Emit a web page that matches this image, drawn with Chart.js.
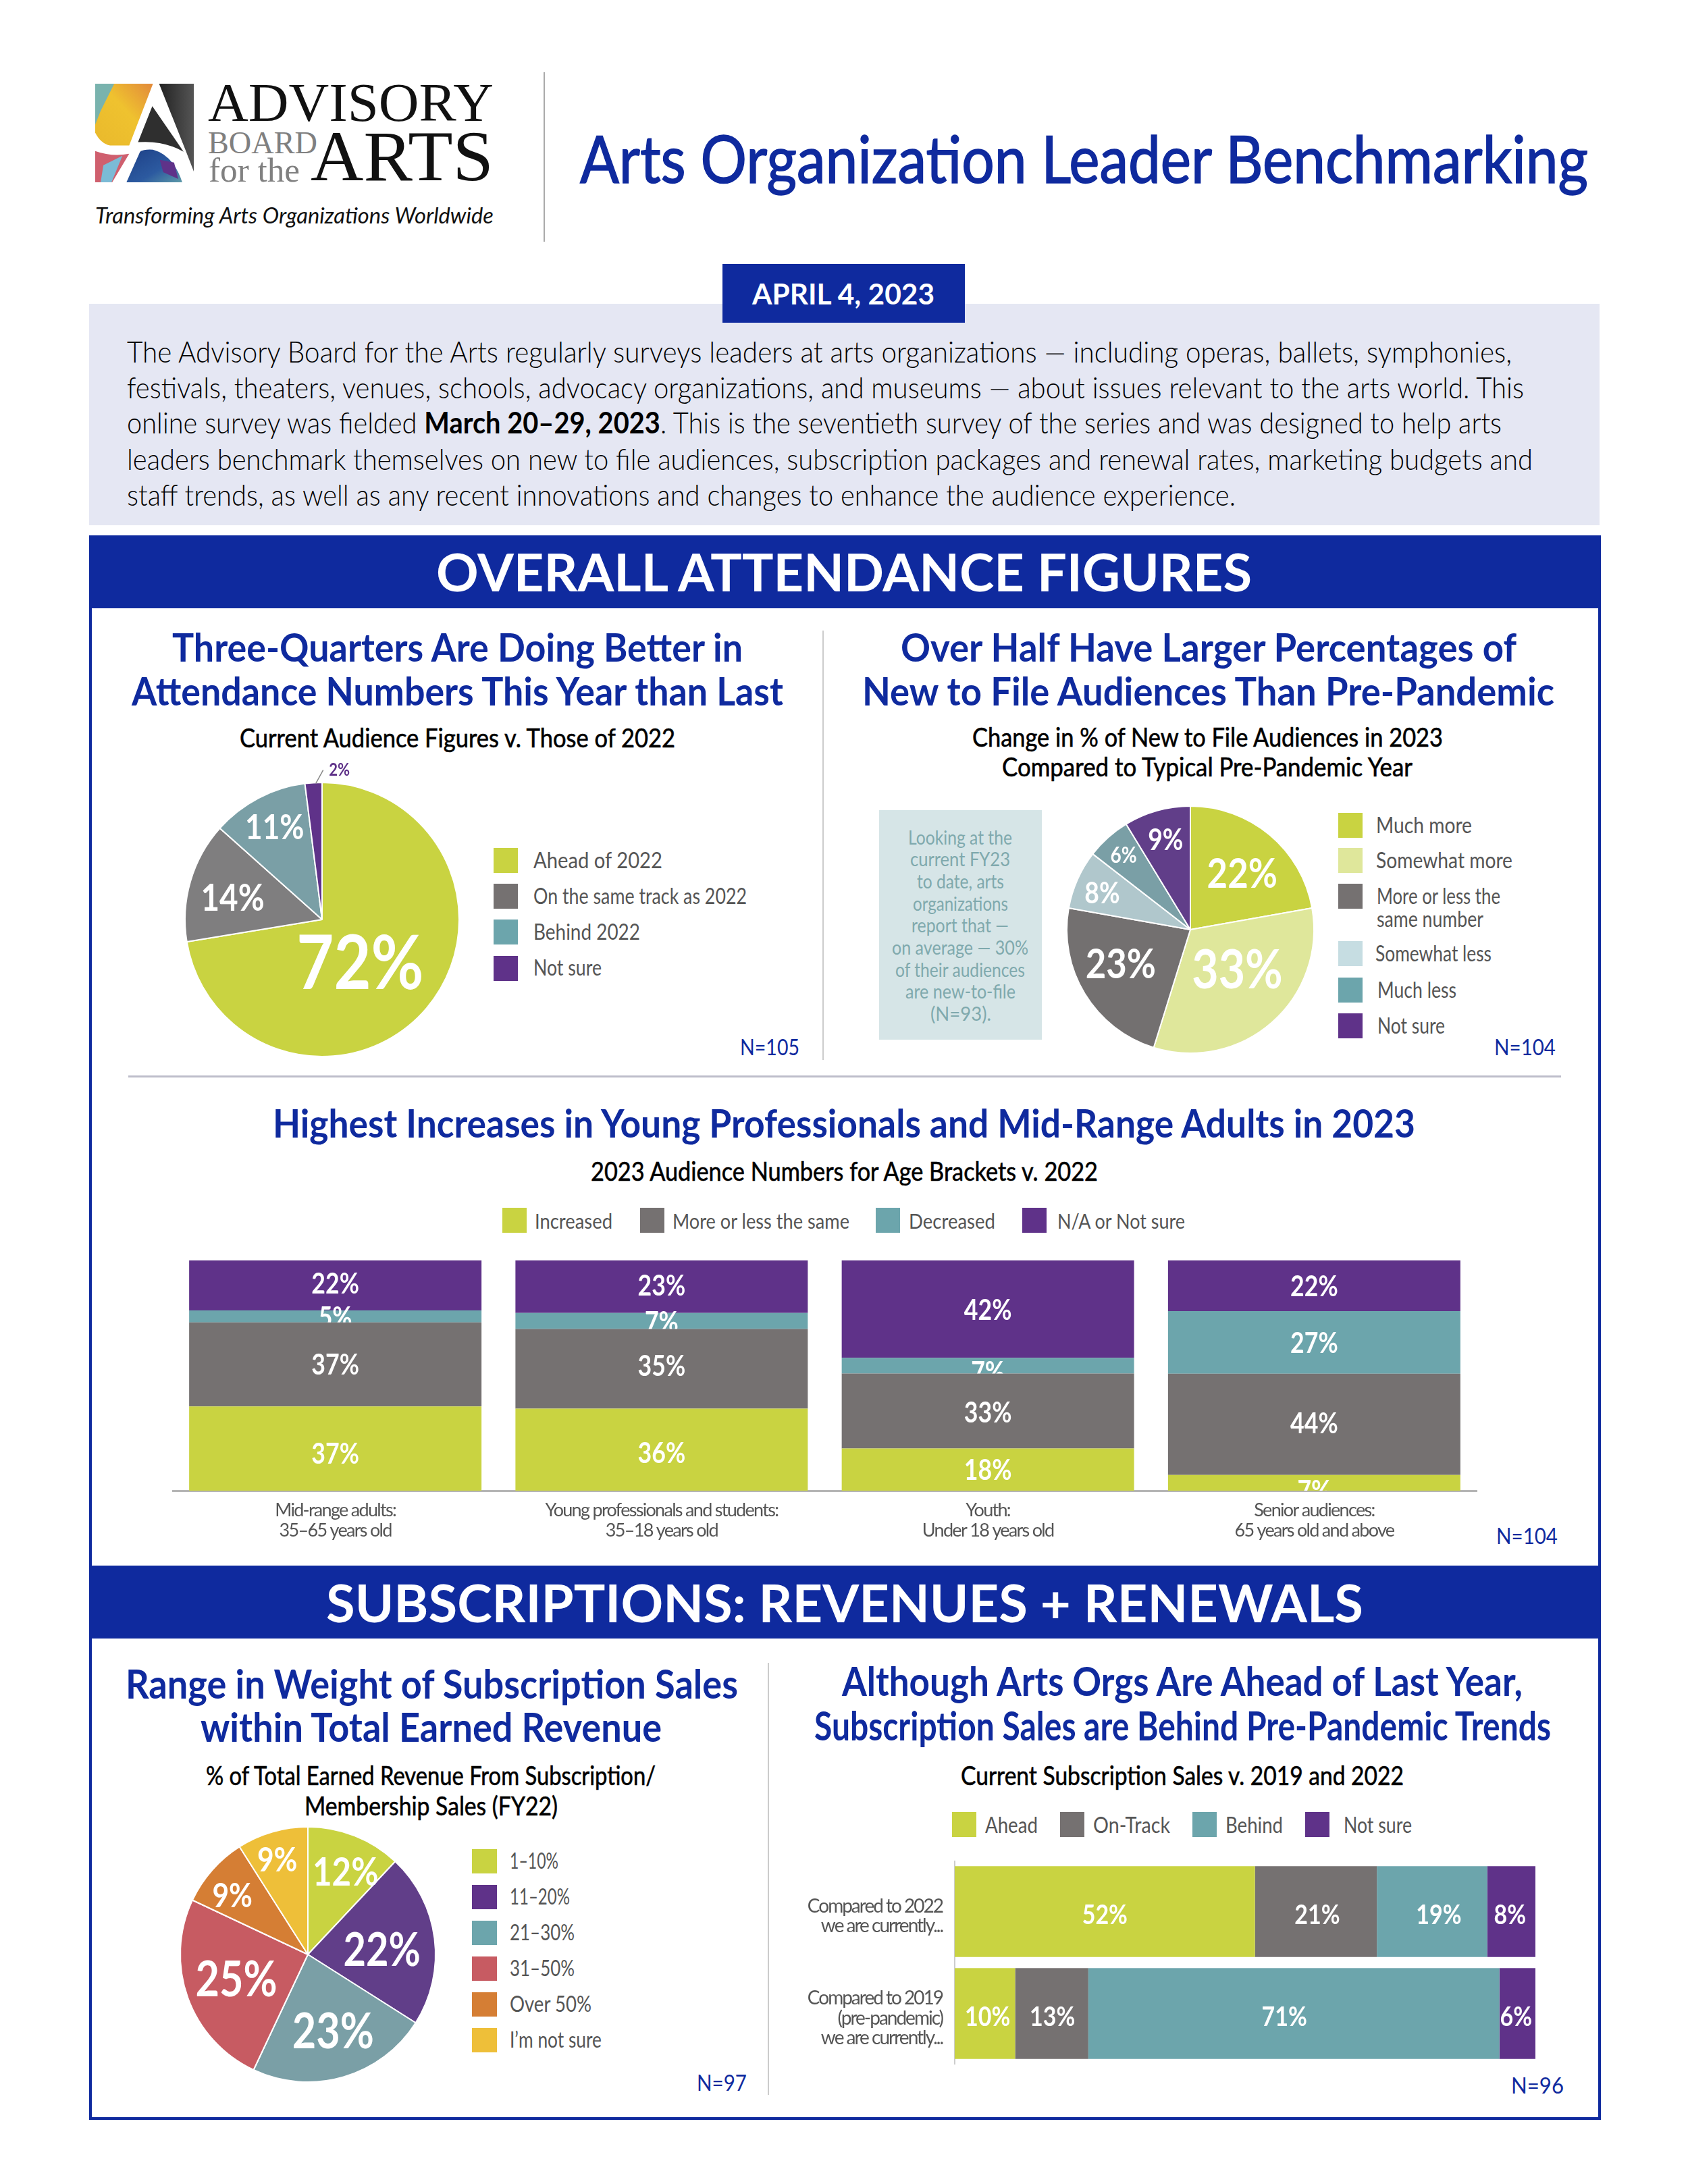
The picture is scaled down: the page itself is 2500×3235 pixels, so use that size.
<!DOCTYPE html>
<html>
<head>
<meta charset="utf-8">
<title>Arts Organization Leader Benchmarking</title>
<script src="https://cdn.jsdelivr.net/npm/chart.js@4"></script>
<style>
html, body { margin: 0; padding: 0; background: #fff; }
#page { position: relative; width: 2500px; height: 3235px; overflow: hidden; font-family: Lato, sans-serif; }
#page canvas { position: absolute; }
.t { position: absolute; white-space: pre; line-height: 1; transform-origin: 0 0; }
.b { position: absolute; }
</style>
</head>
<body>
<div id="page">
  <svg class="b" style="left:141px;top:124px" width="146" height="147" viewBox="0 0 145 146">
    <defs>
      <linearGradient id="warm" x1="0" y1="1" x2="1" y2="0"><stop offset="0" stop-color="#e9b92c"/><stop offset=".55" stop-color="#efc22f"/><stop offset="1" stop-color="#e2893b"/></linearGradient>
      <linearGradient id="cool" x1="0" y1="0" x2="1" y2="1"><stop offset="0" stop-color="#1d3f86"/><stop offset=".6" stop-color="#2c5aa0"/><stop offset="1" stop-color="#5d9aa8"/></linearGradient>
      <linearGradient id="dark" x1="0" y1="0" x2="1" y2="0"><stop offset="0" stop-color="#222"/><stop offset="1" stop-color="#555"/></linearGradient>
    </defs>
    <path d="M0 0H85L50 91H22Q8 88 0 72Z" fill="url(#warm)"/>
    <path d="M0 0H28L8 40L0 60Z" fill="#79b3ae"/>
    <path d="M0 99Q25 108 50 103L25 145H0Z" fill="#cf5f6e"/>
    <path d="M12 120L40 106L24 145H8Z" fill="#7bbbd6"/>
    <path d="M46 145L66 100Q72 96 85 97Q115 105 128 145Z" fill="url(#cool)"/>
    <path d="M95 112L116 116L122 140L100 130Z" fill="#5f3289"/>
    <path d="M94 0H145V129L133 98Z" fill="url(#dark)"/>
    <path d="M84 33L63 86Q100 83 130 100Z" fill="#2f2f2f"/>
  </svg>
</div>
<script>
// pie: current audience figures v. 2022
const attendanceLabels = ["Ahead of 2022", "On the same track as 2022", "Behind 2022", "Not sure"];
const attendanceValues = [72.4, 14.2, 11.4, 2.0];

// pie: new to file audiences
const newFileLabels = ["Much more", "Somewhat more", "More or less the same number", "Somewhat less", "Much less", "Not sure"];
const newFileValues = [22.2, 32.6, 23, 7.7, 5.8, 8.7];

// stacked bars: age brackets
const ageCategories = [
  ["Mid-range adults:", "35–65 years old"],
  ["Young professionals and students:", "35–18 years old"],
  ["Youth:", "Under 18 years old"],
  ["Senior audiences:", "65 years old and above"],
];
const ageSeries = ["Increased", "More or less the same", "Decreased", "N/A or Not sure"];
const ageIncreased = [36.6, 35.6, 18.3, 6.8];
const ageSame = [36.5, 34.6, 32.6, 44];
const ageDecreased = [5.2, 7, 6.8, 27.2];
const ageNotSure = [21.7, 22.8, 42.3, 22];

// pie: weight of subscription sales
const weightLabels = ["1–10%", "11–20%", "21–30%", "31–50%", "Over 50%", "I’m not sure"];
const weightValues = [12, 22, 23, 25, 9, 9];

// horizontal bars: subscription sales v. 2019 and 2022
const salesCategories = [
  ["Compared to 2022", "we are currently..."],
  ["Compared to 2019", "(pre-pandemic)", "we are currently..."],
];
const salesSeries = ["Ahead", "On-Track", "Behind", "Not sure"];
const salesAhead = [51.7, 10.4];
const salesOnTrack = [21, 12.6];
const salesBehind = [19, 70.8];
const salesNotSure = [8.3, 6.2];

const GREEN = "#c9d341", PALE = "#dfe79b", GREY = "#757171", TEAL = "#6ca5ac", PURPLE = "#5f3289";
const PIE_GREY = "#7f7e7f", PIE_TEAL = "#7a9fa6", ICE = "#b0c7cc", ICE_KEY = "#c6dde2";
const RED = "#c75b62", ORANGE = "#d57e34", GOLD = "#eebf39";
const BLUE = "#0f2a9e", TEXT = "#555", SQUEEZE = 0.85;
const HEAVY = "-webkit-text-stroke:0.6px;";

const page = document.getElementById("page");

// single line of real text, stretched to the width it has in the picture
function txt(x, base, w, size, color, weight, str, extra) {
  const el = document.createElement("div");
  el.className = "t";
  el.innerHTML = str;
  el.style.cssText = `left:${x}px;top:${base - 0.85 * size}px;font-size:${size}px;color:${color};font-weight:${weight};${extra || ""}`;
  page.appendChild(el);
  const real = el.getBoundingClientRect().width;
  el.style.transform = `scaleX(${w / real})`;
}
function box(x, y, w, h, color) {
  const el = document.createElement("div");
  el.className = "b";
  el.style.cssText = `left:${x}px;top:${y}px;width:${w}px;height:${h}px;background:${color}`;
  page.appendChild(el);
}

// logo text
const SERIF = "font-family:'Liberation Serif',serif;";
txt(141, 330, 590, 33, "#111", 400, "Transforming Arts Organizations Worldwide", "font-style:italic;");
txt(308, 180, 423, 80, "#111", 400, "ADVISORY", SERIF);
txt(308, 228, 162, 46, "#808080", 400, "BOARD", SERIF);
txt(309, 269, 135, 50, "#808080", 400, "for the", SERIF);
txt(460, 269, 271, 106, "#111", 400, "ARTS", SERIF);
box(805, 107, 2, 251, "#aaa");
txt(859, 267, 1493, 97, BLUE, 400, "Arts Organization Leader Benchmarking", "-webkit-text-stroke:1.6px;");

// intro panel
box(132, 450, 2237, 328, "#e5e7f3");
box(1070, 391, 359, 87, BLUE);
txt(1114, 450, 270, 42, "#fff", 700, "APRIL 4, 2023");
const INTRO = "#000";
txt(188, 535, 2051, 44, INTRO, 300, "The Advisory Board for the Arts regularly surveys leaders at arts organizations — including operas, ballets, symphonies,");
txt(188, 588, 2069, 44, INTRO, 300, "festivals, theaters, venues, schools, advocacy organizations, and museums — about issues relevant to the arts world. This");
txt(188, 640, 2036, 44, INTRO, 300, "online survey was fielded <b style='color:#000;font-weight:700'>March 20–29, 2023</b>. This is the seventieth survey of the series and was designed to help arts");
txt(188, 694, 2082, 44, INTRO, 300, "leaders benchmark themselves on new to file audiences, subscription packages and renewal rates, marketing budgets and");
txt(188, 747, 1642, 44, INTRO, 300, "staff trends, as well as any recent innovations and changes to enhance the audience experience.");

// frame and section bands
const frame = document.createElement("div");
frame.className = "b";
frame.style.cssText = `left:132px;top:793px;width:2231px;height:2339px;border:4px solid ${BLUE}`;
page.appendChild(frame);
box(132, 793, 2239, 108, BLUE);
txt(646, 874, 1208, 76, "#fff", 700, "OVERALL ATTENDANCE FIGURES");
box(132, 2319, 2239, 108, BLUE);
txt(483, 2401, 1536, 76, "#fff", 700, "SUBSCRIPTIONS: REVENUES + RENEWALS");
box(1218, 934, 2, 636, "#ccc");
box(190, 1593, 2122, 3, "#bdbdca");
box(1137, 2463, 2, 640, "#ccc");

// headings
txt(255, 978, 845, 58, BLUE, 700, "Three-Quarters Are Doing Better in");
txt(195, 1043, 965, 58, BLUE, 700, "Attendance Numbers This Year than Last");
txt(355, 1105, 645, 38, "#000", 400, "Current Audience Figures v. Those of 2022", HEAVY);
txt(1334, 978, 912, 58, BLUE, 700, "Over Half Have Larger Percentages of");
txt(1277, 1043, 1025, 58, BLUE, 700, "New to File Audiences Than Pre-Pandemic");
txt(1440, 1104, 697, 38, "#000", 400, "Change in % of New to File Audiences in 2023", HEAVY);
txt(1484, 1148, 608, 38, "#000", 400, "Compared to Typical Pre-Pandemic Year", HEAVY);
txt(404, 1683, 1692, 58, BLUE, 700, "Highest Increases in Young Professionals and Mid-Range Adults in 2023");
txt(875, 1747, 751, 38, "#000", 400, "2023 Audience Numbers for Age Brackets v. 2022", HEAVY);
txt(186, 2514, 907, 60, BLUE, 700, "Range in Weight of Subscription Sales");
txt(297, 2578, 683, 60, BLUE, 700, "within Total Earned Revenue");
txt(305, 2642, 666, 38, "#000", 400, "% of Total Earned Revenue From Subscription/", HEAVY);
txt(451, 2687, 375, 38, "#000", 400, "Membership Sales (FY22)", HEAVY);
txt(1247, 2510, 1008, 60, BLUE, 700, "Although Arts Orgs Are Ahead of Last Year,");
txt(1206, 2576, 1091, 60, BLUE, 700, "Subscription Sales are Behind Pre-Pandemic Trends");
txt(1423, 2642, 656, 38, "#000", 400, "Current Subscription Sales v. 2019 and 2022", HEAVY);

// sample sizes
txt(1096, 1562, 88, 32, BLUE, 400, "N=105");
txt(2213, 1562, 91, 32, BLUE, 400, "N=104");
txt(2216, 2286, 91, 32, BLUE, 400, "N=104");
txt(1032, 3096, 74, 32, BLUE, 400, "N=97");
txt(2238, 3100, 78, 32, BLUE, 400, "N=96");

// note beside second pie
box(1302, 1200, 241, 340, "#d6e5e7");
const NOTE = "#7fa9ad";
txt(1345, 1250, 154, 28, NOTE, 400, "Looking at the");
txt(1348, 1282, 148, 28, NOTE, 400, "current FY23");
txt(1358, 1315, 129, 28, NOTE, 400, "to date, arts");
txt(1352, 1348, 141, 28, NOTE, 400, "organizations");
txt(1350, 1380, 144, 28, NOTE, 400, "report that —");
txt(1321, 1413, 202, 28, NOTE, 400, "on average — 30%");
txt(1326, 1446, 192, 28, NOTE, 400, "of their audiences");
txt(1341, 1478, 163, 28, NOTE, 400, "are new-to-file");
txt(1378, 1511, 90, 28, NOTE, 400, "(N=93).");

// keys
const attendanceKey = [GREEN, GREY, TEAL, PURPLE];
const attendanceKeyWidths = [191, 316, 158, 101];
attendanceLabels.forEach((t, i) => {
  box(731, 1256 + i * 53.2, 36, 37, attendanceKey[i]);
  txt(790, 1285 + i * 53, attendanceKeyWidths[i], 32, TEXT, 400, t);
});

const newFileKey = [GREEN, PALE, GREY, ICE_KEY, TEAL, PURPLE];
const newFileKeyTop = [1204, 1256, 1309, 1394, 1448, 1501];
newFileKey.forEach((c, i) => box(1982, newFileKeyTop[i], 36, 37, c));
txt(2038, 1233, 142, 32, TEXT, 400, newFileLabels[0]);
txt(2038, 1285, 202, 32, TEXT, 400, newFileLabels[1]);
txt(2039, 1338, 183, 32, TEXT, 400, "More or less the");
txt(2039, 1372, 158, 32, TEXT, 400, "same number");
txt(2037, 1423, 172, 32, TEXT, 400, newFileLabels[3]);
txt(2040, 1477, 117, 32, TEXT, 400, newFileLabels[4]);
txt(2040, 1530, 100, 32, TEXT, 400, newFileLabels[5]);

const ageKey = [GREEN, GREY, TEAL, PURPLE];
const ageKeyLeft = [744, 948, 1297, 1514];
const ageKeyTextLeft = [792, 996, 1346, 1566];
const ageKeyWidths = [115, 262, 128, 189];
ageSeries.forEach((t, i) => {
  box(ageKeyLeft[i], 1789, 36, 37, ageKey[i]);
  txt(ageKeyTextLeft[i], 1818, ageKeyWidths[i], 30, TEXT, 400, t);
});

const weightPie = [GREEN, "#613e89", PIE_TEAL, RED, ORANGE, GOLD];
const weightKey = [GREEN, PURPLE, TEAL, RED, ORANGE, GOLD];
const weightKeyWidths = [72, 89, 96, 96, 121, 136];
weightLabels.forEach((t, i) => {
  box(699, 2738.5 + i * 53.1, 37, 36, weightKey[i]);
  txt(755, 2767 + i * 53, weightKeyWidths[i], 32, TEXT, 400, t);
});

const salesKey = [GREEN, GREY, TEAL, PURPLE];
const salesKeyLeft = [1410, 1570, 1766, 1933];
const salesKeyTextLeft = [1459, 1619, 1815, 1990];
const salesKeyWidths = [78, 114, 85, 101];
salesSeries.forEach((t, i) => {
  box(salesKeyLeft[i], 2684, 36, 37, salesKey[i]);
  txt(salesKeyTextLeft[i], 2714, salesKeyWidths[i], 32, TEXT, 400, t);
});

// value labels: no datalabels plugin here, so a small one of our own
function labelPlugin(cfg) {
  return {
    id: "valueLabels",
    beforeDraw(chart) { chart.ctx.letterSpacing = cfg.tickSpacing || "0px"; },
    afterDatasetsDraw(chart) {
      const ctx = chart.ctx;
      chart.data.datasets.forEach((ds, d) => {
        chart.getDatasetMeta(d).data.forEach((el, i) => {
          const pos = el.tooltipPosition();
          const nudge = cfg.nudges(d, i);
          const size = cfg.sizes(d, i);
          const p = el.getProps(["x", "y", "base"], true);
          ctx.save();
          ctx.letterSpacing = "0px";
          if (cfg.clip) {
            ctx.beginPath();
            ctx.rect(0, 0, chart.width, p.base);
            ctx.clip();
          }
          if (cfg.leader && cfg.leader[i]) {
            const l = cfg.leader[i];
            ctx.strokeStyle = "#888";
            ctx.lineWidth = 1.5;
            ctx.beginPath();
            ctx.moveTo(pos.x + l[0], pos.y + l[1]);
            ctx.lineTo(pos.x + l[2], pos.y + l[3]);
            ctx.stroke();
          }
          const x = cfg.center ? cfg.center(el, p, pos).x : pos.x;
          const y = cfg.center ? cfg.center(el, p, pos).y : pos.y;
          ctx.translate(x + nudge[0], y + nudge[1] + size * 0.04);
          ctx.scale(SQUEEZE, 1);
          ctx.font = `700 ${size}px Lato, sans-serif`;
          ctx.fillStyle = cfg.colors ? cfg.colors[i] : "#fff";
          ctx.textAlign = "center";
          ctx.textBaseline = "middle";
          ctx.fillText(Math.round(ds.data[i]) + "%", 0, 0);
          ctx.restore();
        });
      });
    },
  };
}

function addCanvas(left, top, w, h) {
  const c = document.createElement("canvas");
  c.width = w;
  c.height = h;
  c.style.cssText = `left:${left}px;top:${top}px;width:${w}px;height:${h}px`;
  page.appendChild(c);
  return c;
}

function makePie(cx, cy, r, labels, values, colors, sizes, nudges, extra) {
  const half = r + 60;
  const canvas = addCanvas(cx - half, cy - half, half * 2, half * 2);
  return new Chart(canvas, {
    type: "pie",
    plugins: [labelPlugin(Object.assign({ sizes: (d, i) => sizes[i], nudges: (d, i) => nudges[i] }, extra))],
    data: { labels: labels, datasets: [{ data: values, backgroundColor: colors, borderColor: "#fff", borderWidth: 2 }] },
    options: {
      responsive: false,
      animation: false,
      radius: r,
      plugins: { legend: { display: false }, tooltip: { enabled: false } },
    },
  });
}

makePie(477, 1362, 203, attendanceLabels, attendanceValues, [GREEN, PIE_GREY, PIE_TEAL, PURPLE],
  [112, 56, 52, 26],
  [[-21, -3], [-35, -5], [-23, -48], [32, -121]],
  { colors: ["#fff", "#fff", "#fff", PURPLE], leader: [null, null, null, [-3, -100, 8, -120]] });

makePie(1763, 1377, 183, newFileLabels, newFileValues, [GREEN, PALE, "#737070", ICE, PIE_TEAL, "#613e89"],
  [62, 80, 62, 44, 33, 44],
  [[18, -14], [9, -11], [-25, 2], [-47, -18], [-38, -43], [-12, -46]]);

makePie(456, 2895, 189, weightLabels, weightValues, weightPie,
  [58, 68, 72, 72, 50, 50],
  [[21, -35], [16, 4], [11, 22], [-17, 4], [-41, -26], [-19, -50]]);

// stacked columns
const ageNudge = [[7, 4, 0, 11], [0, -5, 2, -2], [1, 1, 9, 0], [-3, -2, 1, 0]];
new Chart(addCanvas(255, 1867, 1933, 431), {
  type: "bar",
  plugins: [labelPlugin({
    clip: true, tickSpacing: "-1.7px",
    sizes: () => 42,
    nudges: (d, i) => [0, ageNudge[d][i]],
    center: (el, p) => ({ x: p.x, y: (p.y + p.base) / 2 }),
  })],
  data: {
    labels: ageCategories,
    datasets: [
      { label: ageSeries[0], data: ageIncreased, backgroundColor: GREEN },
      { label: ageSeries[1], data: ageSame, backgroundColor: GREY },
      { label: ageSeries[2], data: ageDecreased, backgroundColor: TEAL },
      { label: ageSeries[3], data: ageNotSure, backgroundColor: PURPLE },
    ],
  },
  options: {
    responsive: false,
    animation: false,
    layout: { padding: 0 },
    datasets: { bar: { categoryPercentage: 1, barPercentage: 0.896 } },
    plugins: { legend: { display: false }, tooltip: { enabled: false } },
    scales: {
      x: {
        stacked: true,
        grid: { display: false, drawTicks: false },
        border: { color: "#b5b5b5", width: 3 },
        afterFit(s) { s.height = 90; s.paddingLeft = 0; s.paddingRight = 0; },
        ticks: { color: TEXT, padding: 14, maxRotation: 0, autoSkip: false, font: { family: "Lato", size: 27, lineHeight: 1.11 } },
      },
      y: { stacked: true, display: false, min: 0, max: 100 },
    },
  },
});

// stacked horizontal bars
const salesNudge = [[0, 4], [2, 1], [10, -14], [-2, -2]];
new Chart(addCanvas(1150, 2756, 1124, 302), {
  type: "bar",
  plugins: [labelPlugin({
    tickSpacing: "-2px",
    sizes: () => 40,
    nudges: (d, i) => [salesNudge[d][i], 4],
    center: (el, p) => ({ x: (p.x + p.base) / 2, y: p.y }),
  })],
  data: {
    labels: salesCategories,
    datasets: [
      { label: salesSeries[0], data: salesAhead, backgroundColor: GREEN },
      { label: salesSeries[1], data: salesOnTrack, backgroundColor: GREY },
      { label: salesSeries[2], data: salesBehind, backgroundColor: TEAL },
      { label: salesSeries[3], data: salesNotSure, backgroundColor: PURPLE },
    ],
  },
  options: {
    indexAxis: "y",
    responsive: false,
    animation: false,
    layout: { padding: 0 },
    datasets: { bar: { categoryPercentage: 1, barPercentage: 0.89 } },
    plugins: { legend: { display: false }, tooltip: { enabled: false } },
    scales: {
      x: { stacked: true, display: false, min: 0, max: 100 },
      y: {
        stacked: true,
        grid: { display: false, drawTicks: false },
        border: { color: "#ccc", width: 2 },
        afterFit(s) { s.width = 264; s.paddingTop = 0; s.paddingBottom = 0; },
        ticks: { color: TEXT, padding: 18, labelOffset: 7, font: { family: "Lato", size: 28, lineHeight: 1.05 } },
      },
    },
  },
});
</script>
</body>
</html>
